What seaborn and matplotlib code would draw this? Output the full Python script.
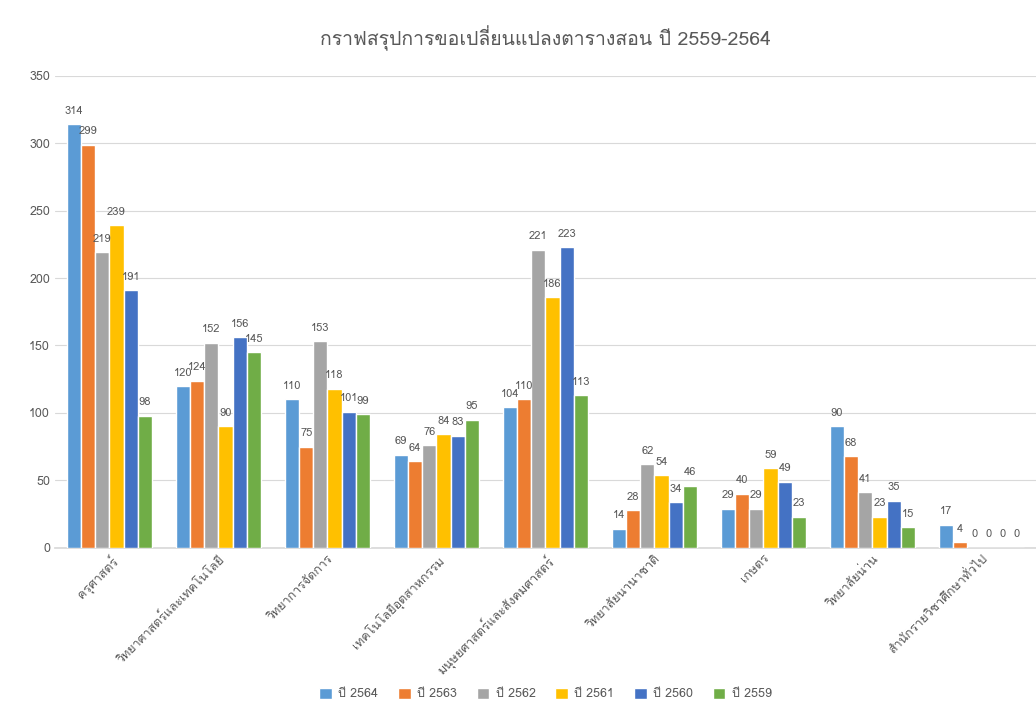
import pandas as pd
import numpy as np
import matplotlib
matplotlib.use('Agg')
import matplotlib.pyplot as plt
import seaborn as sns
from matplotlib import font_manager
from matplotlib.ft2font import FT2Font

# data
faculties = ['ครุศาสตร์', 'วิทยาศาสตร์และเทคโนโลยี', 'วิทยาการจัดการ', 'เทคโนโลยีอุตสาหกรรม',
             'มนุษยศาสตร์และสังคมศาสตร์', 'วิทยาลัยนานาชาติ', 'เกษตร', 'วิทยาลัยน่าน',
             'สำนักรายวิชาศึกษาทั่วไป']
years = ['ปี 2564', 'ปี 2563', 'ปี 2562', 'ปี 2561', 'ปี 2560', 'ปี 2559']
y2564 = [314, 120, 110, 69, 104, 14, 29, 90, 17]
y2563 = [299, 124, 75, 64, 110, 28, 40, 68, 4]
y2562 = [219, 152, 153, 76, 221, 62, 29, 41, 0]
y2561 = [239, 90, 118, 84, 186, 54, 59, 23, 0]
y2560 = [191, 156, 101, 83, 223, 34, 49, 35, 0]
y2559 = [98, 145, 99, 95, 113, 46, 23, 15, 0]
colors = ['#5B9BD5', '#ED7D31', '#A5A5A5', '#FFC000', '#4472C4', '#70AD47']

rows = []
for yr, vals in zip(years, [y2564, y2563, y2562, y2561, y2560, y2559]):
    for f, v in zip(faculties, vals):
        rows.append({'faculty': f, 'year': yr, 'count': v})
df = pd.DataFrame(rows)

sns.set_theme(style='white')

# find a font that has Thai glyphs
thai_font = None
for fe in font_manager.fontManager.ttflist:
    try:
        if 0x0E01 in FT2Font(fe.fname).get_charmap():
            thai_font = fe.name
            break
    except Exception:
        pass
fams = ([thai_font] if thai_font else []) + ['DejaVu Sans']
plt.rcParams['font.family'] = fams

fig = plt.figure(figsize=(10.36, 7.15), dpi=100)
ax = fig.add_axes([0.053, 0.234, 0.947, 0.66])

sns.barplot(data=df, x='faculty', y='count', hue='year', palette=colors,
            width=0.78, saturation=1, ax=ax, zorder=3)

for c in ax.containers:
    ax.bar_label(c, fontsize=8, color='#595959', padding=6)

ax.set_ylim(0, 350)
ax.set_yticks(range(0, 351, 50))
ax.yaxis.grid(True, color='#D9D9D9', linewidth=0.8, zorder=0)
for s in ['top', 'right', 'left']:
    ax.spines[s].set_visible(False)
ax.spines['bottom'].set_color('#D9D9D9')
ax.set_xlabel('')
ax.set_ylabel('')
ax.tick_params(axis='both', colors='#595959', labelsize=9, length=0)
plt.setp(ax.get_xticklabels(), rotation=45, ha='right', rotation_mode='anchor')

ax.set_title('กราฟสรุปการขอเปลี่ยนแปลงตารางสอน ปี 2559-2564', fontsize=14,
             color='#595959', pad=22)

ax.legend(loc='center', bbox_to_anchor=(0.5, -0.31), ncol=6, frameon=False,
          fontsize=9, handlelength=1.0, handleheight=1.0, labelcolor='#595959',
          columnspacing=1.6, handletextpad=0.5)

fig.savefig('out.png', dpi=100)
